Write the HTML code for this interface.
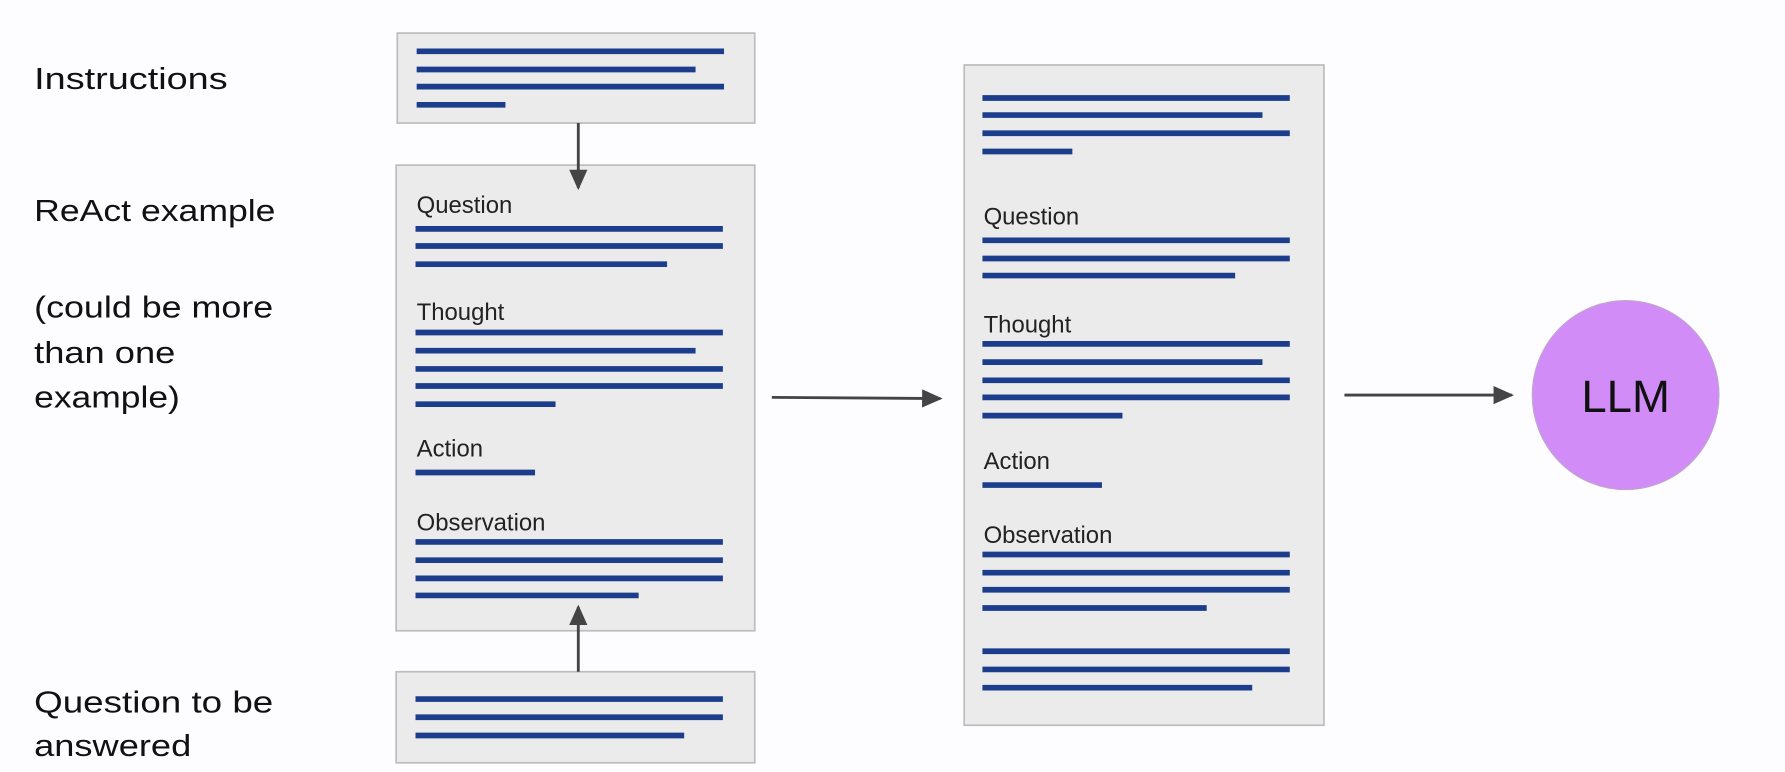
<!DOCTYPE html>
<html><head><meta charset="utf-8"><style>
html,body{margin:0;padding:0;background:#fdfcfe;}
svg{display:block;}
text{font-family:"Liberation Sans",sans-serif;}
</style></head><body>
<svg width="1785" height="772" viewBox="0 0 1568 678" xmlns="http://www.w3.org/2000/svg">
<rect width="1568" height="678" fill="#fdfcfe"/>
<defs>
<marker id="ah" markerWidth="18" markerHeight="16" refX="16" refY="8" orient="auto" markerUnits="userSpaceOnUse">
<path d="M0,0 L18,8 L0,16 z" fill="#444"/>
</marker>
</defs>
<g fill="#111" font-size="27">
<text x="30" y="78" textLength="170" lengthAdjust="spacingAndGlyphs">Instructions</text>
<text x="30" y="194" textLength="212" lengthAdjust="spacingAndGlyphs">ReAct example</text>
<text x="30" y="279" textLength="210" lengthAdjust="spacingAndGlyphs">(could be more</text>
<text x="30" y="319" textLength="124" lengthAdjust="spacingAndGlyphs">than one</text>
<text x="30" y="358" textLength="128" lengthAdjust="spacingAndGlyphs">example)</text>
<text x="30" y="626" textLength="210" lengthAdjust="spacingAndGlyphs">Question to be</text>
<text x="30" y="664" textLength="138" lengthAdjust="spacingAndGlyphs">answered</text>
</g>
<g fill="#ebebeb" stroke="#bdbdbd" stroke-width="1.5">
<rect x="349" y="29" width="314" height="79"/>
<rect x="348" y="145" width="315" height="409"/>
<rect x="348" y="590" width="315" height="80"/>
<rect x="847" y="57" width="316" height="580"/>
</g>
<g stroke="#1b3d8c" stroke-width="5">
<line x1="366" y1="45" x2="636" y2="45"/><line x1="366" y1="61" x2="611" y2="61"/><line x1="366" y1="76" x2="636" y2="76"/><line x1="366" y1="92" x2="444" y2="92"/>
<line x1="365" y1="201" x2="635" y2="201"/><line x1="365" y1="216" x2="635" y2="216"/><line x1="365" y1="232" x2="586" y2="232"/>
<line x1="365" y1="292" x2="635" y2="292"/><line x1="365" y1="308" x2="611" y2="308"/><line x1="365" y1="324" x2="635" y2="324"/><line x1="365" y1="339" x2="635" y2="339"/><line x1="365" y1="355" x2="488" y2="355"/>
<line x1="365" y1="415" x2="470" y2="415"/>
<line x1="365" y1="476" x2="635" y2="476"/><line x1="365" y1="492" x2="635" y2="492"/><line x1="365" y1="508" x2="635" y2="508"/><line x1="365" y1="523" x2="561" y2="523"/>
<line x1="365" y1="614" x2="635" y2="614"/><line x1="365" y1="630" x2="635" y2="630"/><line x1="365" y1="646" x2="601" y2="646"/>
<line x1="863" y1="86" x2="1133" y2="86"/><line x1="863" y1="101" x2="1109" y2="101"/><line x1="863" y1="117" x2="1133" y2="117"/><line x1="863" y1="133" x2="942" y2="133"/>
<line x1="863" y1="211" x2="1133" y2="211"/><line x1="863" y1="227" x2="1133" y2="227"/><line x1="863" y1="242" x2="1085" y2="242"/>
<line x1="863" y1="302" x2="1133" y2="302"/><line x1="863" y1="318" x2="1109" y2="318"/><line x1="863" y1="334" x2="1133" y2="334"/><line x1="863" y1="349" x2="1133" y2="349"/><line x1="863" y1="365" x2="986" y2="365"/>
<line x1="863" y1="426" x2="968" y2="426"/>
<line x1="863" y1="487" x2="1133" y2="487"/><line x1="863" y1="503" x2="1133" y2="503"/><line x1="863" y1="518" x2="1133" y2="518"/><line x1="863" y1="534" x2="1060" y2="534"/>
<line x1="863" y1="572" x2="1133" y2="572"/><line x1="863" y1="588" x2="1133" y2="588"/><line x1="863" y1="604" x2="1100" y2="604"/>
</g>
<g fill="#222" font-size="21">
<text x="366" y="187">Question</text>
<text x="366" y="281">Thought</text>
<text x="366" y="401">Action</text>
<text x="366" y="466">Observation</text>
<text x="864" y="197">Question</text>
<text x="864" y="292">Thought</text>
<text x="864" y="412">Action</text>
<text x="864" y="477">Observation</text>
</g>
<g stroke="#444" stroke-width="2.5" fill="none">
<line x1="508" y1="108" x2="508" y2="165" marker-end="url(#ah)"/>
<line x1="508" y1="590" x2="508" y2="533" marker-end="url(#ah)"/>
<line x1="678" y1="349" x2="826" y2="350" marker-end="url(#ah)"/>
<line x1="1181" y1="347" x2="1328" y2="347" marker-end="url(#ah)"/>
</g>
<ellipse cx="1428" cy="347" rx="82" ry="83" fill="#d18cf8" stroke="#bfa6cc" stroke-width="1"/>
<text x="1428" y="362" font-size="40" fill="#111" text-anchor="middle">LLM</text>
</svg>
</body></html>
